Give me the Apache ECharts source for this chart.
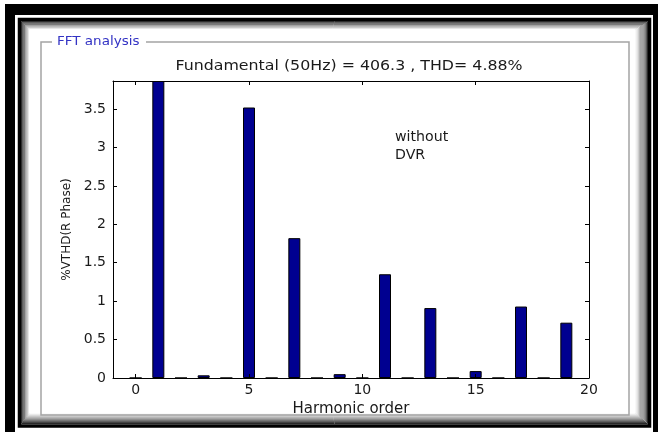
<!DOCTYPE html>
<html>
<head>
<meta charset="utf-8">
<script src="https://cdn.jsdelivr.net/npm/echarts@6/dist/echarts.min.js"></script>
<style>
html,body{margin:0;padding:0;background:#fff;}
#chart{width:658px;height:432px;}
</style>
</head>
<body>
<div id="chart"></div>
<script>
// ---- data ----
const harmonics = [0,1,2,3,4,5,6,7,8,9,10,11,12,13,14,15,16,17,18,19];
const thdValues = [0, 3.865, 0, 0.035, 0, 3.52, 0, 1.82, 0, 0.05, 0, 1.35, 0, 0.91, 0, 0.09, 0, 0.93, 0, 0.72];
const xTickValues = [0, 5, 10, 15, 20];
const yTickValues = [0, 0.5, 1, 1.5, 2, 2.5, 3, 3.5];
const titleText = 'Fundamental (50Hz) = 406.3 , THD= 4.88%';
const panelLabel = 'FFT analysis';
const noteLines = ['without', 'DVR'];
const xName = 'Harmonic order';
const yName = '%VTHD(R Phase)';

const FONT = 'DejaVu Sans';
const chart = echarts.init(document.getElementById('chart'), null, {renderer:'canvas'});

// bevel frame graphic elements
const bevel = [];
const steps = 12;
for (let k = 0; k < steps; k++) {
  const t = k / (steps - 1);
  const c = Math.round(40 + t * 215);
  const col = 'rgb(' + c + ',' + c + ',' + c + ')';
  const l = 21.5 + k * 0.75, tp = 21.5 + k * 0.75;
  const r = 647.5 - k * 1.15, b = 423.5 - k * 0.95;
  bevel.push({type:'rect', silent:true, z:1,
    shape:{x:l, y:tp, width:r - l, height:b - tp},
    style:{fill:null, stroke:col, lineWidth:1}});
}

const graphics = [
  // outer black frame
  {type:'rect', silent:true, z:0, shape:{x:5, y:4, width:653, height:11}, style:{fill:'#000'}},
  {type:'rect', silent:true, z:0, shape:{x:5, y:4, width:10, height:428}, style:{fill:'#000'}},
  {type:'rect', silent:true, z:0, shape:{x:653, y:4, width:5, height:428}, style:{fill:'#000'}},
  // inner black frame
  {type:'rect', silent:true, z:0, shape:{x:19.5, y:19.5, width:630, height:406.5}, style:{fill:'#fff', stroke:'#000', lineWidth:3.5}},
].concat(bevel).concat([
  // interior
  {type:'rect', silent:true, z:2, shape:{x:33, y:33, width:601, height:379}, style:{fill:'#fff'}},
  // group box
  {type:'rect', silent:true, z:3, shape:{x:41, y:42, width:588, height:373}, style:{fill:null, stroke:'#a4a4a4', lineWidth:1.5}},
  {type:'rect', silent:true, z:4, shape:{x:52, y:36, width:94, height:12}, style:{fill:'#fff'}},
  {type:'text', silent:true, z:5, x:57, y:42, scaleX:1.08,
    style:{text:panelLabel, fill:'#3333c4', font:'12.5px "' + FONT + '"', textVerticalAlign:'middle', textAlign:'left'}},
  // title
  {type:'text', silent:true, z:5, x:349, y:66, scaleX:1.13,
    style:{text:titleText, fill:'#1a1a1a', font:'14px "' + FONT + '"', textVerticalAlign:'middle', textAlign:'center'}},
  // note
  {type:'text', silent:true, z:5, x:395, y:137, scaleX:1.05,
    style:{text:noteLines[0], fill:'#1a1a1a', font:'13.5px "' + FONT + '"', textVerticalAlign:'middle', textAlign:'left'}},
  {type:'text', silent:true, z:5, x:395, y:155, scaleX:1.05,
    style:{text:noteLines[1], fill:'#1a1a1a', font:'13.5px "' + FONT + '"', textVerticalAlign:'middle', textAlign:'left'}}
]);

const axisText = {color:'#1a1a1a', fontFamily:FONT, fontSize:14};
const lineStyle = {color:'#000', width:1};

const option = {
  animation:false,
  backgroundColor:'#fff',
  graphic:{elements:graphics},
  grid:{left:113, right:69, top:81, bottom:54, show:false, z:10},
  xAxis:[{
    type:'value', min:-1, max:20, position:'bottom', z:10,
    name:xName, nameLocation:'middle', nameGap:23,
    nameTextStyle:{color:'#1a1a1a', fontFamily:FONT, fontSize:15},
    axisLine:{show:true, onZero:false, lineStyle:lineStyle},
    axisTick:{show:true, inside:true, length:4, customValues:xTickValues, lineStyle:lineStyle},
    axisLabel:Object.assign({show:true, margin:5, customValues:xTickValues}, axisText),
    splitLine:{show:false}
  },{
    type:'value', min:-1, max:20, position:'top', z:10,
    axisLine:{show:true, onZero:false, lineStyle:lineStyle},
    axisTick:{show:true, inside:true, length:4, customValues:xTickValues, lineStyle:lineStyle},
    axisLabel:{show:false},
    splitLine:{show:false}
  }],
  yAxis:[{
    type:'value', min:0, max:3.865, position:'left', z:10,
    name:yName, nameLocation:'middle', nameGap:40,
    nameTextStyle:{color:'#1a1a1a', fontFamily:FONT, fontSize:12},
    axisLine:{show:true, onZero:false, lineStyle:lineStyle},
    axisTick:{show:true, inside:true, length:4, customValues:yTickValues, lineStyle:lineStyle},
    axisLabel:Object.assign({show:true, margin:7, customValues:yTickValues}, axisText),
    splitLine:{show:false}
  },{
    type:'value', min:0, max:3.865, position:'right', z:10,
    axisLine:{show:true, onZero:false, lineStyle:lineStyle},
    axisTick:{show:true, inside:true, length:4, customValues:yTickValues, lineStyle:lineStyle},
    axisLabel:{show:false},
    splitLine:{show:false}
  }],
  series:[{
    type:'bar', xAxisIndex:0, yAxisIndex:0, z:8,
    barWidth:12, clip:true,
    itemStyle:{color:'#000090', borderColor:'#000', borderWidth:1},
    data:harmonics.map((h, i) => [h, thdValues[i]])
  }]
};
chart.setOption(option);
</script>
</body>
</html>
